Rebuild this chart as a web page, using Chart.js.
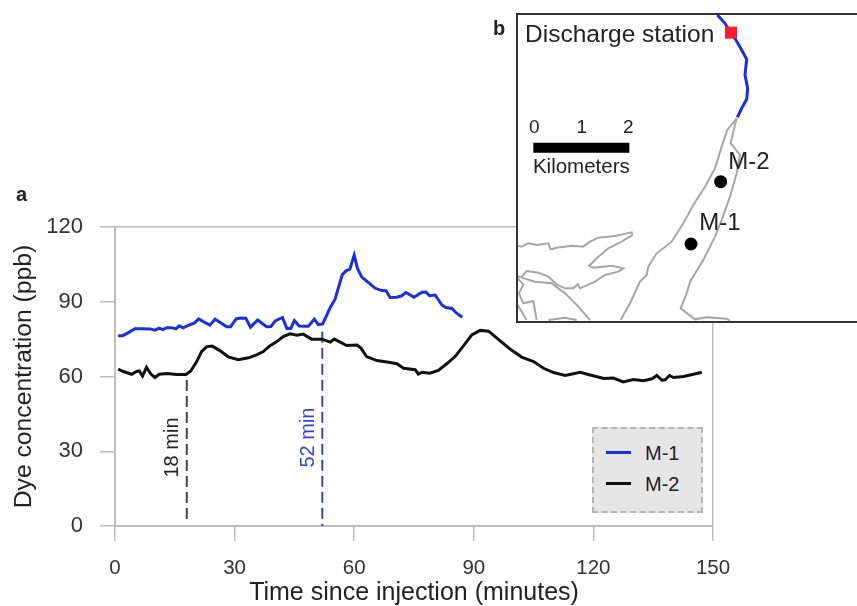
<!DOCTYPE html>
<html>
<head>
    <title>Dye concentration</title>
    <style>
        html, body { margin: 0; padding: 0; background: #fff; overflow: hidden; }
        body { width: 857px; height: 606px; position: relative; font-family: "Liberation Sans", Arial, sans-serif; color: #222; }
        #mainChart { position: absolute; left: 0; top: 0; }
        #mapBox { position: absolute; left: 516px; top: 13px; width: 345px; height: 306px; background: #fff; border: 2px solid #333; }
        #legendBox { position: absolute; left: 592px; top: 427px; width: 107px; height: 82px; background: #e6e6e6; border: 2px dashed #b4b4b4; }
        .legendRow { position: absolute; left: 12px; font-size: 20px; line-height: 24px; height: 24px; white-space: nowrap; }
        .legendRow i { position: absolute; left: 0; top: 10px; width: 25px; height: 3px; }
        .legendRow span { position: absolute; left: 39px; }
        .panel { position: absolute; font-weight: bold; font-size: 20px; }
    </style>
    <script src="https://cdn.jsdelivr.net/npm/chart.js"></script>
</head>
<body>
    <canvas id="mainChart" width="857" height="606"></canvas>
    <div class="panel" style="left:16px;top:183px">a</div>
    <div class="panel" style="left:493px;top:17px">b</div>
    <div id="legendBox"></div>
    <div id="mapBox"><canvas id="mapChart" width="345" height="306"></canvas></div>

    <script>
        // panel a
        const seriesNames = ["M-1", "M-2"];
        const seriesColors = ["#1a2fe0", "#111111"];
        const m1Time = [0.8, 1.9, 3.4, 5, 6.7, 8.8, 10, 11.1, 12, 13, 14.2, 15.3, 16.1, 17.1, 18.8, 19.9, 21, 22.2, 23.8, 25.1, 26.3, 28, 29, 30.4, 31.4, 32.8, 34, 35.8, 38, 39.1, 40.2, 42, 43.1, 44.1, 45, 46.2, 48.5, 50, 51, 52.1, 54, 55.2, 57, 58, 58.9, 60, 60.8, 61.9, 63.6, 65.2, 66.9, 68, 69, 70.7, 71.9, 73, 75, 77, 78, 78.9, 80.3, 82, 83, 84.5, 85.7, 87.1];
        const m1Values = [76.4, 76.4, 77.6, 79.2, 79.2, 79.1, 78.6, 79.4, 78.8, 79.6, 79.6, 79.1, 80.3, 79.5, 80.8, 81.4, 83.1, 82, 80.6, 83, 81.8, 80, 80, 83.1, 83.5, 83.4, 79.8, 82.7, 80, 80.1, 82.3, 83.7, 79.3, 79.3, 82.5, 80.3, 80.2, 83, 80.8, 81.1, 87.7, 91, 100.8, 102.5, 103, 108.7, 103.5, 99.9, 97.7, 95.5, 94.5, 94.4, 91.7, 91.8, 92.4, 93.7, 91.8, 93.8, 93.9, 92.4, 92.7, 88.7, 87.7, 87.3, 85.4, 83.8];
        const m2Time = [0.8, 2.1, 4.2, 5.4, 6.1, 6.9, 7.9, 9, 10, 11.1, 13, 15.5, 17.8, 19, 20.5, 21.7, 23, 24.4, 26.3, 28.4, 30.9, 33.5, 35.5, 37.2, 38.9, 40.6, 42.2, 43.9, 45.6, 47.2, 49.3, 51.9, 54, 55, 56.5, 58.1, 60.7, 61.7, 63.1, 65.7, 69, 70.7, 72.4, 75.3, 76.1, 77, 79, 81.1, 83.2, 85.3, 87.4, 89.5, 91.6, 93.7, 95.8, 99.1, 102, 105, 107.5, 110, 112.9, 116.7, 119.2, 122.6, 125, 127.5, 130, 132.6, 134.7, 135.9, 137.2, 138, 139.1, 140.1, 142.6, 145.1, 147.2];
        const m2Values = [63, 62, 60.9, 62, 62.2, 60.2, 63.7, 61, 59.6, 60.9, 61.2, 60.8, 60.8, 62.2, 66, 70, 72, 72.2, 70.4, 67.9, 66.7, 67.5, 68.7, 70, 72.4, 74, 76, 77.1, 76.6, 77, 75, 75, 73.8, 75, 73.8, 72.4, 72.6, 71.4, 68, 66.4, 65.6, 65.1, 63.3, 62.7, 61, 61.7, 61.3, 62.4, 65.1, 68, 72.3, 76.7, 78.5, 78.2, 75.4, 71, 67.8, 66, 63.3, 61.6, 60.4, 61.7, 60.6, 59.2, 59.4, 57.8, 58.8, 58.3, 59.1, 60.4, 58.5, 58.7, 60.4, 59.6, 60, 60.9, 61.7];
        const lagTimes = [18, 52];
        const lagTops = [58.6, 78];
        const lagBottoms = [2.4, 0];
        const lagLabels = ["18 min", "52 min"];
        const lagColors = ["#444444", "#2f45d6"];
        const lagLabelLevels = [31.5, 35.5];

        // panel b, in map units
        const riverX = [682, 705, 722, 738, 755, 770, 765, 773, 770, 755, 742];
        const riverY = [45, 70, 98, 120, 150, 178, 225, 265, 298, 325, 352];
        const westShoreX = [740, 712, 695, 675, 645, 610, 580, 545, 500, 475, 470, 450, 420, 392];
        const westShoreY = [355, 390, 440, 505, 560, 615, 670, 725, 760, 800, 825, 845, 910, 960];
        const eastShoreX = [740, 730, 722, 750, 740, 720, 695, 675, 640, 600, 590, 572, 615, 650, 710, 720];
        const eastShoreY = [355, 395, 430, 465, 520, 590, 660, 710, 780, 845, 880, 925, 958, 952, 956, 962];
        const bayX = [83, 95, 115, 140, 175, 182, 200, 245, 280, 300, 325, 375, 425, 427, 395, 355, 325, 297, 310, 365, 400, 385, 345, 315, 270, 263, 250, 225, 200, 175, 145, 110, 95, 83];
        const bayY = [737, 740, 730, 735, 730, 748, 743, 737, 740, 725, 713, 708, 697, 705, 725, 745, 770, 797, 803, 797, 805, 815, 825, 845, 865, 853, 865, 865, 853, 830, 818, 813, 830, 830];
        const coast2X = [95, 135, 185, 225, 265, 300];
        const coast2Y = [833, 845, 850, 880, 920, 960];
        const coast3X = [83, 100, 87, 100, 130, 140];
        const coast3Y = [835, 853, 880, 910, 903, 960];
        const coast4X = [83, 110];
        const coast4Y = [915, 960];
        const coast5X = [175, 225, 260];
        const coast5Y = [960, 953, 960];
        const stationX = [603, 692];
        const stationY = [732, 545];
        const dischargeX = [723];
        const dischargeY = [98];
        const scaleBarX = [130, 418];
        const scaleBarY = [443, 443];
        const mapLabels = ["Discharge station", "M-2", "M-1", "0", "1", "2", "Kilometers"];
        const mapLabelX = [105, 715, 628, 133, 275, 415, 274];
        const mapLabelY = [105, 487, 670, 382, 382, 382, 502];
        const mapLabelSizes = [24.5, 24, 24, 19, 19, 19, 20.5];
        const mapLabelAligns = ["left", "left", "left", "center", "center", "center", "center"];

        function zip(xs, ys) {
            return xs.map((x, i) => ({ x: x, y: ys[i] }));
        }

        const axisGray = "#bdbdbd";
        const fontName = '"Liberation Sans", Arial, sans-serif';

        function shore(xs, ys) {
            return { data: zip(xs, ys), borderColor: "#a6a6a6", borderWidth: 2, pointRadius: 0, showLine: true, order: 5 };
        }

        // rotated "18 min" / "52 min" notes next to the dashed lines
        const lagNotes = {
            id: "lagNotes",
            afterDatasetsDraw(chart) {
                const ctx = chart.ctx;
                ctx.save();
                ctx.font = "20px " + fontName;
                ctx.textAlign = "center";
                ctx.textBaseline = "middle";
                lagLabels.forEach((text, i) => {
                    ctx.save();
                    ctx.translate(chart.scales.x.getPixelForValue(lagTimes[i]) - 14, chart.scales.y.getPixelForValue(lagLabelLevels[i]));
                    ctx.rotate(-Math.PI / 2);
                    ctx.fillStyle = i == 0 ? "#222" : lagColors[1];
                    ctx.fillText(text, 0, 0);
                    ctx.restore();
                });
                ctx.restore();
            }
        };

        const lagSets = lagTimes.map((t, i) => ({
            label: lagLabels[i],
            data: [{ x: t, y: lagTops[i] }, { x: t, y: lagBottoms[i] }],
            borderColor: lagColors[i],
            borderWidth: 2,
            borderDash: [11, 5],
            pointRadius: 0,
            clip: false
        }));

        new Chart(document.getElementById("mainChart"), {
            type: "line",
            data: {
                datasets: [
                    { label: seriesNames[0], data: zip(m1Time, m1Values), borderColor: seriesColors[0], borderWidth: 3, pointRadius: 0, tension: 0 },
                    { label: seriesNames[1], data: zip(m2Time, m2Values), borderColor: seriesColors[1], borderWidth: 3, pointRadius: 0, tension: 0 }
                ].concat(lagSets)
            },
            options: {
                responsive: false,
                animation: false,
                layout: { autoPadding: false, padding: { left: 0, top: 227, right: 144, bottom: 0 } },
                plugins: { legend: { display: false }, tooltip: { enabled: false } },
                scales: {
                    x: {
                        type: "linear",
                        min: 0,
                        max: 150,
                        afterFit(scale) { scale.height = 80; },
                        border: { color: axisGray, width: 2 },
                        grid: {
                            color: c => c.tick.value == 150 ? axisGray : "transparent",
                            tickColor: axisGray,
                            tickLength: 15,
                            lineWidth: 1.5
                        },
                        ticks: { stepSize: 30, padding: 15, maxRotation: 0, color: "#333", font: { family: fontName, size: 20.5 } },
                        title: {
                            display: true,
                            text: "Time since injection (minutes)",
                            color: "#222",
                            font: { family: fontName, size: 25 },
                            padding: { top: 0, bottom: -2 }
                        }
                    },
                    y: {
                        min: 0,
                        max: 120,
                        afterFit(scale) { scale.width = 115; },
                        border: { color: axisGray, width: 2 },
                        grid: {
                            color: c => c.tick.value == 120 ? axisGray : "transparent",
                            tickColor: axisGray,
                            tickLength: 15,
                            lineWidth: 1.5
                        },
                        ticks: { stepSize: 30, padding: 17, color: "#333", font: { family: fontName, size: 22 } },
                        title: {
                            display: true,
                            text: "Dye concentration (ppb)",
                            color: "#222",
                            font: { family: fontName, size: 24.7 },
                            padding: { top: 9, bottom: 0 }
                        }
                    }
                }
            },
            plugins: [lagNotes]
        });

        // legend box
        const legendBox = document.getElementById("legendBox");
        seriesNames.forEach((name, i) => {
            const row = document.createElement("div");
            row.className = "legendRow";
            row.style.top = (12 + i * 31) + "px";
            row.innerHTML = '<i style="background:' + seriesColors[i] + '"></i><span>' + name + "</span>";
            legendBox.appendChild(row);
        });

        const mapText = {
            id: "mapText",
            afterDatasetsDraw(chart) {
                const ctx = chart.ctx;
                ctx.save();
                ctx.fillStyle = "#222";
                ctx.textBaseline = "middle";
                mapLabels.forEach((text, i) => {
                    ctx.font = mapLabelSizes[i] + "px " + fontName;
                    ctx.textAlign = mapLabelAligns[i];
                    ctx.fillText(text, chart.scales.x.getPixelForValue(mapLabelX[i]), chart.scales.y.getPixelForValue(mapLabelY[i]));
                });
                ctx.restore();
            }
        };

        new Chart(document.getElementById("mapChart"), {
            type: "scatter",
            data: {
                datasets: [
                    shore(westShoreX, westShoreY),
                    shore(eastShoreX, eastShoreY),
                    shore(bayX, bayY),
                    shore(coast2X, coast2Y),
                    shore(coast3X, coast3Y),
                    shore(coast4X, coast4Y),
                    shore(coast5X, coast5Y),
                    { data: zip(riverX, riverY), borderColor: seriesColors[0], borderWidth: 3, pointRadius: 0, showLine: true, order: 4 },
                    { data: zip(scaleBarX, scaleBarY), borderColor: "#000", borderWidth: 10, pointRadius: 0, showLine: true, order: 3 },
                    { data: zip(stationX, stationY), backgroundColor: "#000", borderWidth: 0, pointRadius: 6.5, order: 2 },
                    { data: zip(dischargeX, dischargeY), backgroundColor: "#ff1a2e", borderWidth: 0, pointStyle: "rect", pointRadius: 8.5, order: 1 }
                ]
            },
            options: {
                responsive: false,
                animation: false,
                layout: { autoPadding: false, padding: 0 },
                plugins: { legend: { display: false }, tooltip: { enabled: false } },
                scales: {
                    x: { display: false, min: 84, max: 1119 },
                    y: { display: false, min: 45, max: 963, reverse: true }
                }
            },
            plugins: [mapText]
        });
    </script>
</body>
</html>
